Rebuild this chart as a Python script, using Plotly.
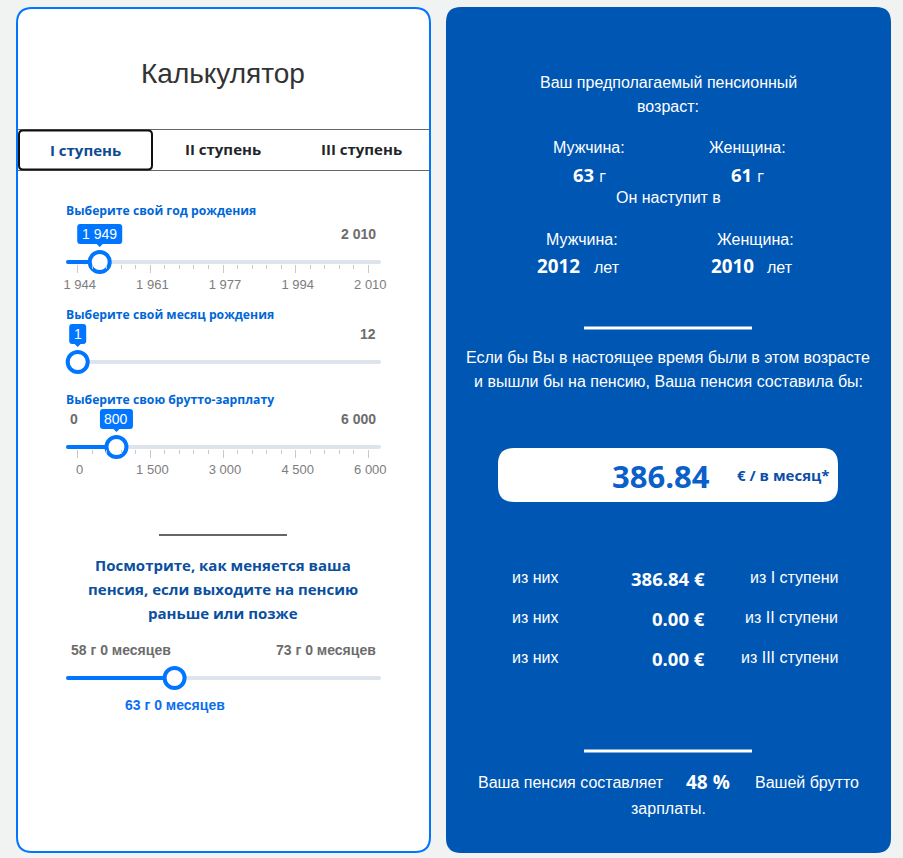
import plotly.graph_objects as go

W, H = 903, 858

# slider values
year_min, year_max, year_value = 1944, 2010, 1949
year_ticks = [1944, 1960.5, 1977, 1993.5, 2010]
year_tick_labels = ["1 944", "1 961", "1 977", "1 994", "2 010"]

month_min, month_max, month_value = 1, 12, 1

salary_min, salary_max, salary_value = 0, 6000, 800
salary_ticks = [0, 1500, 3000, 4500, 6000]
salary_tick_labels = ["0", "1 500", "3 000", "4 500", "6 000"]

age_min, age_max, age_value = 58, 73, 63

# texts
tabs = ["I ступень", "II ступень", "III ступень"]
parts_left = ["из них", "из них", "из них"]
parts_values = ["386.84 €", "0.00 €", "0.00 €"]
parts_right = ["из I ступени", "из II ступени", "из III ступени"]

BG = "#f1f3f3"
BLUE = "#0075ff"
PANEL = "#0056b3"
LABEL = "#0067d8"
GREY = "#6c6c6c"
TRACK = "#dee4ec"
SANS = "Liberation Sans, Arial, sans-serif"
OPEN = "Open Sans, sans-serif"

fig = go.Figure()
annotations = []
shapes = []


def text(x, y, s, size=16, color="white", anchor="center", family=SANS, bold=False, xref="x"):
    # everything but the 14px labels renders a pixel low
    annotations.append(dict(
        x=x, y=y if size == 14 else y - 1, xref=xref, yref="y", text=s, showarrow=False,
        xanchor=anchor, yanchor="middle",
        font=dict(size=size, color=color, family=family, weight=700 if bold else 400),
        borderpad=0, borderwidth=0,
    ))


def rounded(x0, y0, x1, y1, r):
    return (f"M {x0+r},{y0} L {x1-r},{y0} Q {x1},{y0} {x1},{y0+r} L {x1},{y1-r} Q {x1},{y1} {x1-r},{y1} "
            f"L {x0+r},{y1} Q {x0},{y1} {x0},{y1-r} L {x0},{y0+r} Q {x0},{y0} {x0+r},{y0} Z")


def rect(x0, y0, x1, y1, r, fill, line=None, width=0):
    shapes.append(dict(type="path", path=rounded(x0, y0, x1, y1, r), xref="x", yref="y", layer="below",
                       fillcolor=fill, line=dict(color=line or fill, width=width)))


def hline(x0, x1, y, color, width):
    shapes.append(dict(type="line", x0=x0, x1=x1, y0=y, y1=y, xref="x", yref="y", layer="below",
                       line=dict(color=color, width=width)))


# slider scale: min/max sit a bit inside of the track
TRACK_L, TRACK_R = 68, 379
TICK_L, TICK_R = 77.7, 368.3


def add_slider(n, vmin, vmax, value, track_y, ticks=None, labels=None, bubble=None, bubble_w=0):
    per_px = (vmax - vmin) / (TICK_R - TICK_L)
    lo = vmin - (TICK_L - TRACK_L) * per_px
    hi = vmax + (TRACK_R - TICK_R) * per_px
    xname, yname = f"x{n}", f"y{n}"
    axis = dict(domain=[TRACK_L / W, TRACK_R / W], range=[lo, hi], anchor=yname, showgrid=False,
                zeroline=False, showline=False, fixedrange=True, showticklabels=False, ticks="")
    if ticks:
        axis.update(ticks="outside", tickvals=ticks, ticktext=labels, showticklabels=True, ticklen=8,
                    tickwidth=1, tickcolor="#c9c9c9", tickfont=dict(size=13, color="#7d7d7d", family=SANS),
                    ticklabelstandoff=0, ticklabelshift=2,
                    minor=dict(ticks="outside", tick0=vmin, dtick=(vmax - vmin) / 20, ticklen=4,
                               tickwidth=1, tickcolor="#c9c9c9", showgrid=False))
    fig.layout[f"xaxis{n}"] = axis
    fig.layout[f"yaxis{n}"] = dict(domain=[1 - (track_y + 2) / H, 1 - (track_y - 2) / H], range=[-1, 1],
                                   anchor=xname, visible=False, fixedrange=True)
    common = dict(xaxis=xname, yaxis=yname, showlegend=False, hoverinfo="skip", cliponaxis=False)
    fig.add_trace(go.Scatter(x=[lo, hi], y=[0, 0], mode="lines+markers", line=dict(color=TRACK, width=4),
                             marker=dict(size=4, color=TRACK), **common))
    fig.add_trace(go.Scatter(x=[lo, value], y=[0, 0], mode="lines+markers", line=dict(color=BLUE, width=4),
                             marker=dict(size=4, color=BLUE), **common))
    fig.add_trace(go.Scatter(x=[value], y=[0], mode="markers",
                             marker=dict(size=20, color="white", line=dict(color=BLUE, width=4)), **common))
    if bubble:
        hw = bubble_w / 2
        shapes.append(dict(type="path", xref=xname, yref="y", xsizemode="pixel", xanchor=value,
                           ysizemode="pixel", yanchor=track_y, layer="above", fillcolor=BLUE,
                           line=dict(width=0),
                           path=(f"M {-hw+3},38 L {hw-3},38 Q {hw},38 {hw},35 L {hw},21 Q {hw},18 {hw-3},18 "
                                 f"L 3,18 L 0,15 L -3,18 L {-hw+3},18 Q {-hw},18 {-hw},21 L {-hw},35 "
                                 f"Q {-hw},38 {-hw+3},38 Z")))
        text(value, track_y - 28, bubble, size=14, xref=xname)


# cards
rect(17, 8, 430, 852, 15, "white", BLUE, 2)
rect(446, 7, 891, 853, 15, PANEL)

# left card
text(223, 74, "Калькулятор", size=28, color="#333333")
hline(18, 430, 129.5, "#666666", 1)
hline(18, 430, 170.5, "#666666", 1)
rect(19, 130.5, 152, 169.5, 4, "white", "#111111", 2)
for tab, x, y, col in zip(tabs, [85.5, 223, 361], [151, 150, 150], ["#0d4a94", "#212529", "#212529"]):
    text(x, y, tab, size=15, color=col, family=OPEN, bold=True)

text(66, 211, "Выберите свой год рождения", size=12.2, color=LABEL, anchor="left", family=OPEN, bold=True)
text(376, 234, f"{year_tick_labels[-1]}", size=14, color=GREY, anchor="right", bold=True)
add_slider(2, year_min, year_max, year_value, 262, year_ticks, year_tick_labels, "1 949", 45)

text(66, 315, "Выберите свой месяц рождения", size=12.2, color=LABEL, anchor="left", family=OPEN, bold=True)
text(376, 334, str(month_max), size=14, color=GREY, anchor="right", bold=True)
add_slider(3, month_min, month_max, month_value, 362, bubble=str(month_value), bubble_w=17)

text(66, 400, "Выберите свою брутто-зарплату", size=12.2, color=LABEL, anchor="left", family=OPEN, bold=True)
text(74, 419, str(salary_min), size=14, color=GREY, bold=True)
text(376, 419, salary_tick_labels[-1], size=14, color=GREY, anchor="right", bold=True)
add_slider(4, salary_min, salary_max, salary_value, 447, salary_ticks, salary_tick_labels, str(salary_value), 33)

hline(159, 287, 535, "#666666", 2)
for line, y in zip(["Посмотрите, как меняется ваша", "пенсия, если выходите на пенсию", "раньше или позже"],
                   [566, 590, 614]):
    text(223, y, line, size=15, color="#0a4fa0", family=OPEN, bold=True)
text(71, 650, f"{age_min} г 0 месяцев", size=14, color=GREY, anchor="left", bold=True)
text(376, 650, f"{age_max} г 0 месяцев", size=14, color=GREY, anchor="right", bold=True)
add_slider(5, age_min, age_max, age_value, 678)
text(age_value, 705, f"{age_value} г 0 месяцев", size=14, color="#0a6ef0", bold=True, xref="x5")

# right card
text(668, 83, "Ваш предполагаемый пенсионный")
text(668, 107, "возраст:")
text(589, 148, "Мужчина:")
text(747, 148, "Женщина:")
text(589, 175, "<b>63</b> <span style='font-size:16px'>г</span>", size=18.5, family=OPEN)
text(747, 175, "<b>61</b> <span style='font-size:16px'>г</span>", size=18.5, family=OPEN)
text(668, 198, "Он наступит в")
text(582, 240, "Мужчина:")
text(755, 240, "Женщина:")
text(558, 267, "2012", size=18.8, family=OPEN, bold=True)
text(606.5, 268, "лет")
text(732, 267, "2010", size=18.8, family=OPEN, bold=True)
text(779.5, 268, "лет")
hline(584, 752, 328, "white", 3)
text(668, 358, "Если бы Вы в настоящее время были в этом возрасте")
text(668, 382, "и вышли бы на пенсию, Ваша пенсия составила бы:")

rect(498, 448, 838, 502, 16, "white")
text(710, 477, "386.84", size=31, color="#0a5fc8", anchor="right", family=OPEN, bold=True)
text(830, 476, "€ / в месяц*", size=15, color="#0d4fa8", anchor="right", family=OPEN, bold=True)

for left, val, right, y in zip(parts_left, parts_values, parts_right, [578, 618, 658]):
    text(512, y, left, anchor="left")
    text(705, y + 1, val, size=18.5, anchor="right", family=OPEN, bold=True)
    text(838, y, right, anchor="right")

hline(584, 752, 751, "white", 3)
text(478, 783, "Ваша пенсия составляет", anchor="left")
text(708, 783, "48 %", size=19, family=OPEN, bold=True)
text(755, 783, "Вашей брутто", anchor="left")
text(668, 809, "зарплаты.")

fig.update_layout(
    width=W, height=H, margin=dict(l=0, r=0, t=0, b=0, autoexpand=False), paper_bgcolor=BG,
    plot_bgcolor="rgba(0,0,0,0)",
    xaxis=dict(range=[0, W], domain=[0, 1], visible=False, fixedrange=True),
    yaxis=dict(range=[H, 0], domain=[0, 1], visible=False, fixedrange=True),
    annotations=annotations, shapes=shapes, showlegend=False,
)
# keep the pixel axes alive even though nothing is plotted directly on them
fig.add_trace(go.Scatter(x=[0], y=[0], mode="markers", marker=dict(opacity=0), showlegend=False, hoverinfo="skip"))

fig.write_html("out.html", config={"displayModeBar": False},
               post_script="document.body.style.margin='0';document.body.style.overflow='hidden';")
